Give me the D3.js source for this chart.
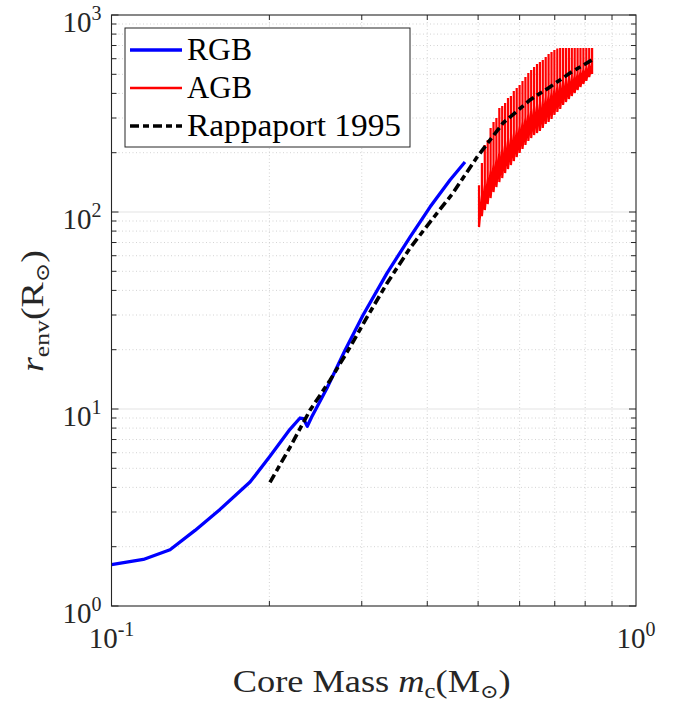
<!DOCTYPE html>
<html><head><meta charset="utf-8">
<script src="https://cdn.jsdelivr.net/npm/d3@7"></script>
<style>body{margin:0;background:#fff}svg{display:block}</style>
</head><body><svg id="c" width="686" height="703"></svg>
<script>
// ---- data ----
const rgbMass   = [0.1, 0.1150, 0.1293, 0.1443, 0.1610, 0.1837, 0.2005, 0.2189, 0.2288, 0.2321, 0.2362, 0.2408, 0.2573, 0.2788, 0.3016, 0.3352, 0.3708, 0.4048, 0.4420, 0.4720];
const rgbRadius = [1.620, 1.723, 1.930, 2.419, 3.093, 4.257, 5.751, 7.886, 9.00, 8.94, 8.17, 9.11, 12.70, 19.88, 29.93, 48.93, 74.6, 105.9, 145.3, 179.3];

const rapMass   = [0.2005, 0.2189, 0.2390, 0.2610, 0.2849, 0.3070, 0.3352, 0.3708, 0.4048, 0.4477, 0.4977, 0.5578, 0.6279, 0.6855, 0.7484, 0.8244];
const rapRadius = [4.24, 6.39, 9.85, 13.99, 20.58, 29.24, 43.5, 65.6, 88.9, 124.8, 190.0, 282.9, 370.3, 431.3, 507.9, 591.5];

// AGB thermal pulses: mass of each pulse, level before the pulse, peak, and minimum after it
const agbMass = [0.5020, 0.5084, 0.5149, 0.5215, 0.5282, 0.5350, 0.5418, 0.5488, 0.5558, 0.5629,
                 0.5701, 0.5774, 0.5848, 0.5923, 0.5999, 0.6076, 0.6154, 0.6233, 0.6312, 0.6393,
                 0.6475, 0.6558, 0.6642, 0.6727, 0.6813, 0.6901, 0.6989, 0.7079, 0.7169, 0.7261,
                 0.7354, 0.7448, 0.7544, 0.7640, 0.7738, 0.7837, 0.7938, 0.8040, 0.8143, 0.8247];
const agbBase = [102.0, 122.2, 138.6, 148.0, 163.3, 175.2, 184.9, 200.6, 208.3, 218.8,
                 230.3, 239.1, 251.7, 262.6, 273.9, 287.0, 300.7, 315.1, 326.4, 338.1,
                 347.7, 355.9, 366.9, 382.6, 393.6, 405.7, 421.3, 433.3, 443.6, 456.3,
                 465.9, 475.8, 485.9, 496.3, 506.8, 517.6, 528.6, 539.8, 555.2, 567.0];
const agbPeak = [136.9, 177.2, 218.8, 231.9, 266.9, 286.3, 300.0, 337.3, 345.2, 357.5,
                 379.2, 388.1, 411.5, 426.3, 441.5, 462.8, 484.8, 507.9, 526.0, 544.9,
                 564.3, 577.7, 591.5, 612.6, 634.5, 649.5, 665.0, 676.7, 680.6, 680.6,
                 680.6, 680.6, 680.6, 680.6, 680.6, 680.6, 680.6, 680.6, 680.6, 680.6];
const agbLow  = [83.8, 95.3, 102.3, 109.7, 117.7, 126.2, 133.8, 141.9, 148.7, 157.6,
                 165.2, 173.1, 181.4, 190.1, 199.3, 208.8, 218.8, 229.3, 237.4, 245.9,
                 251.7, 257.7, 266.9, 279.7, 286.3, 296.6, 310.8, 321.9, 333.4, 349.3,
                 361.6, 374.7, 388.1, 402.0, 416.4, 431.3, 446.7, 462.8, 484.8, 502.0];

const xTickExp = [-1, 0];
const yTickExp = [0, 1, 2, 3];
const legendLabels = ["RGB", "AGB", "Rappaport 1995"];
const legendColors = ["#0000ff", "#ff0000", "#000000"];

// ---- layout ----
const M = {l: 111.5, r: 636, t: 15, b: 606};
const x = d3.scaleLog().domain([0.1, 1]).range([M.l, M.r]);
const y = d3.scaleLog().domain([1, 1000]).range([M.b, M.t]);
const svg = d3.select("#c");
svg.append("rect").attr("width", 686).attr("height", 703).attr("fill", "#fff");
const serif = "'Liberation Serif', 'Times New Roman', serif";
const axisCol = "#262626";
const dash = "9,4,6,4";

const minorX = [], minorY = [];
for (let k = 2; k <= 9; k++) minorX.push(k / 10);
for (let e = 0; e < 3; e++) for (let k = 2; k <= 9; k++) minorY.push(k * Math.pow(10, e));
const majorY = [10, 100];

// grid
const g = svg.append("g");
g.selectAll(".gmx").data(minorX).join("line")
  .attr("x1", d => x(d)).attr("x2", d => x(d)).attr("y1", M.t).attr("y2", M.b)
  .attr("stroke", "#c8c8c8").attr("stroke-width", 0.8).attr("stroke-dasharray", "1,2.5");
g.selectAll(".gmy").data(minorY).join("line")
  .attr("y1", d => y(d)).attr("y2", d => y(d)).attr("x1", M.l).attr("x2", M.r)
  .attr("stroke", "#c8c8c8").attr("stroke-width", 0.8).attr("stroke-dasharray", "1,2.5");
g.selectAll(".gMy").data(majorY).join("line")
  .attr("y1", d => y(d)).attr("y2", d => y(d)).attr("x1", M.l).attr("x2", M.r)
  .attr("stroke", "#e3e3e3").attr("stroke-width", 1);

// data
svg.append("clipPath").attr("id", "clp").append("rect")
  .attr("x", M.l).attr("y", M.t).attr("width", M.r - M.l).attr("height", M.b - M.t);
const plot = svg.append("g").attr("clip-path", "url(#clp)");
const line = d3.line().x(d => x(d[0])).y(d => y(d[1]));

const agbPts = [];
agbMass.forEach((m, i) => {
  agbPts.push([m, agbBase[i]], [m, agbPeak[i]], [m, agbLow[i]]);
});
plot.append("path").attr("d", line(agbPts)).attr("fill", "none")
  .attr("stroke", "#ff0000").attr("stroke-width", 2.2).attr("stroke-linejoin", "bevel");

plot.append("path").attr("d", line(rgbMass.map((m, i) => [m, rgbRadius[i]])))
  .attr("fill", "none").attr("stroke", "#0000ff").attr("stroke-width", 3.3).attr("stroke-linejoin", "round");

plot.append("path").attr("d", line(rapMass.map((m, i) => [m, rapRadius[i]])))
  .attr("fill", "none").attr("stroke", "#000").attr("stroke-width", 3.6)
  .attr("stroke-dasharray", dash);

// axes (ticks inward on all sides)
const ax = svg.append("g");
const majorLen = 7, minorLen = 5;
function ticks(sel, vals, len, orient) {
  const horiz = orient === "b" || orient === "t";
  sel.selectAll(null).data(vals).join("line")
    .attr("x1", d => horiz ? x(d) : (orient === "l" ? M.l : M.r))
    .attr("x2", d => horiz ? x(d) : (orient === "l" ? M.l + len : M.r - len))
    .attr("y1", d => !horiz ? y(d) : (orient === "b" ? M.b : M.t))
    .attr("y2", d => !horiz ? y(d) : (orient === "b" ? M.b - len : M.t + len))
    .attr("stroke", axisCol).attr("stroke-width", 1);
}
ticks(ax, minorX, minorLen, "b"); ticks(ax, minorX, minorLen, "t");
ticks(ax, minorY, minorLen, "l"); ticks(ax, minorY, minorLen, "r");
ticks(ax, yTickExp.map(e => Math.pow(10, e)), majorLen, "l");
ticks(ax, yTickExp.map(e => Math.pow(10, e)), majorLen, "r");
ax.append("rect").attr("x", M.l).attr("y", M.t).attr("width", M.r - M.l).attr("height", M.b - M.t)
  .attr("fill", "none").attr("stroke", axisCol).attr("stroke-width", 1.1);

// tick labels
yTickExp.forEach(e => {
  const t = svg.append("text").attr("x", M.l - 10).attr("y", y(Math.pow(10, e)) + 17)
    .attr("text-anchor", "end").attr("font-family", serif).attr("font-size", 29).attr("fill", axisCol);
  t.append("tspan").text("10");
  t.append("tspan").attr("dy", -12).attr("font-size", 20).text(String(e));
});
xTickExp.forEach(e => {
  const t = svg.append("text").attr("x", x(Math.pow(10, e))).attr("y", M.b + 42)
    .attr("text-anchor", "middle").attr("font-family", serif).attr("font-size", 29).attr("fill", axisCol);
  t.append("tspan").text("10");
  t.append("tspan").attr("dy", -12).attr("font-size", 20).text(String(e));
});

// axis titles
const xt = svg.append("text").attr("x", (M.l + M.r) / 2 - 2).attr("y", 692)
  .attr("text-anchor", "middle").attr("font-family", serif).attr("font-size", 31).attr("fill", axisCol)
  .attr("textLength", 278).attr("lengthAdjust", "spacingAndGlyphs");
xt.append("tspan").text("Core Mass ");
xt.append("tspan").attr("font-style", "italic").text("m");
xt.append("tspan").attr("dy", 6).attr("font-size", 21).text("c");
xt.append("tspan").attr("dy", -6).text("(M");
xt.append("tspan").attr("dy", 6).attr("font-size", 19).attr("font-family", "'DejaVu Serif', serif").text("\u2299");
xt.append("tspan").attr("dy", -6).text(")");

const yt = svg.append("text").attr("transform", "translate(43," + 311 + ") rotate(-90)")
  .attr("text-anchor", "middle").attr("font-family", serif).attr("font-size", 31).attr("fill", axisCol)
  .attr("textLength", 122).attr("lengthAdjust", "spacingAndGlyphs");
yt.append("tspan").attr("font-style", "italic").text("r");
yt.append("tspan").attr("dy", 6).attr("font-size", 21).text("env");
yt.append("tspan").attr("dy", -6).text("(R");
yt.append("tspan").attr("dy", 6).attr("font-size", 19).attr("font-family", "'DejaVu Serif', serif").text("\u2299");
yt.append("tspan").attr("dy", -6).text(")");

// legend
const lg = svg.append("g");
lg.append("rect").attr("x", 125).attr("y", 28).attr("width", 285).attr("height", 119)
  .attr("fill", "#fff").attr("stroke", axisCol).attr("stroke-width", 1);
const legendWidths = [65, 65, 214];
legendLabels.forEach((lab, i) => {
  const yy = 50 + i * 38;
  const l = lg.append("line").attr("x1", 130).attr("x2", 182).attr("y1", yy).attr("y2", yy)
    .attr("stroke", legendColors[i]).attr("stroke-width", i === 1 ? 2.6 : 3.3);
  if (i === 2) l.attr("stroke-dasharray", dash);
  lg.append("text").attr("x", 187).attr("y", yy + 10).attr("font-family", serif)
    .attr("font-size", 31).attr("fill", "#000")
    .attr("textLength", legendWidths[i]).attr("lengthAdjust", "spacingAndGlyphs").text(lab);
});
</script>
</body></html>
